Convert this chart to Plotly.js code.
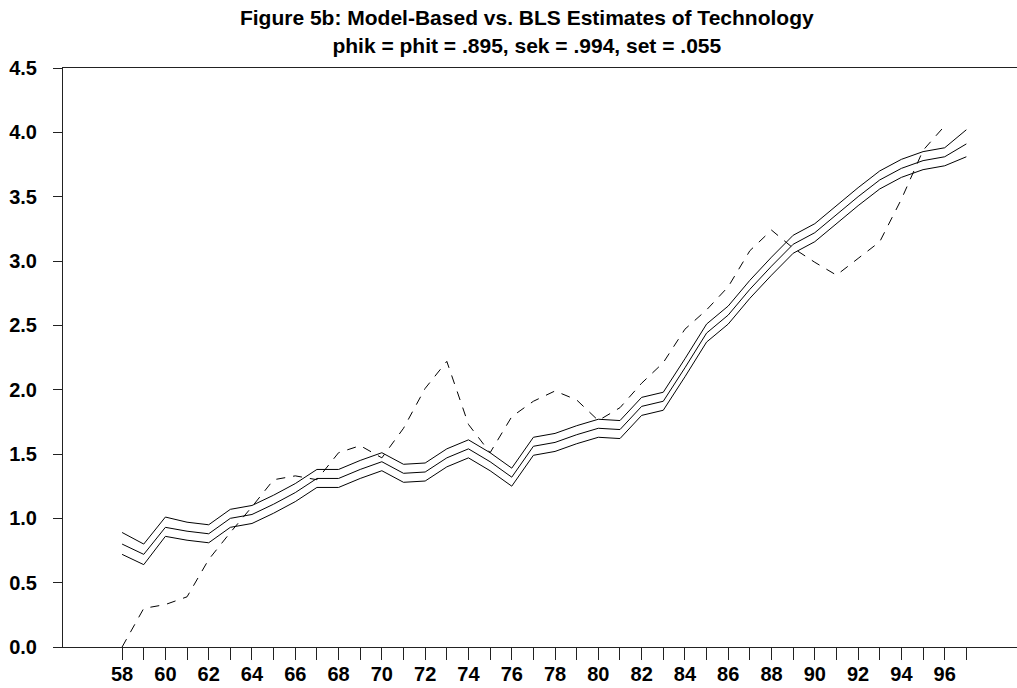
<!DOCTYPE html>
<html>
<head>
<meta charset="utf-8">
<script src="https://cdn.plot.ly/plotly-3.0.1.min.js"></script>
<style>html,body{margin:0;padding:0;background:#fff;}#chart{width:1017px;height:688px;}</style>
</head>
<body>
<div id="chart"></div>
<script>
const years = [58,59,60,61,62,63,64,65,66,67,68,69,70,71,72,73,74,75,76,77,78,79,80,81,82,83,84,85,86,87,88,89,90,91,92,93,94,95,96,97];
const modelMid = [0.80,0.72,0.93,0.90,0.88,1.00,1.03,1.11,1.20,1.31,
                  1.31,1.38,1.44,1.35,1.36,1.47,1.54,1.44,1.32,1.56,
                  1.59,1.65,1.70,1.69,1.87,1.91,2.17,2.44,2.58,2.78,
                  2.96,3.13,3.22,3.36,3.50,3.63,3.72,3.78,3.81,3.91];
const modelUpper = [0.89,0.80,1.01,0.97,0.95,1.07,1.10,1.18,1.27,1.38,
                    1.38,1.45,1.51,1.42,1.43,1.54,1.61,1.51,1.39,1.63,
                    1.66,1.72,1.77,1.76,1.94,1.98,2.24,2.51,2.65,2.85,
                    3.03,3.20,3.29,3.43,3.57,3.70,3.79,3.85,3.88,4.02];
const modelLower = [0.72,0.64,0.86,0.83,0.81,0.93,0.96,1.04,1.13,1.24,
                    1.24,1.31,1.37,1.28,1.29,1.40,1.47,1.37,1.25,1.49,
                    1.52,1.58,1.63,1.62,1.80,1.84,2.10,2.37,2.51,2.71,
                    2.89,3.06,3.15,3.29,3.43,3.56,3.65,3.71,3.74,3.81];
const blsEstimate = [0.00,0.30,0.33,0.39,0.68,0.89,1.09,1.30,1.33,1.30,
                     1.51,1.565,1.47,1.70,2.01,2.22,1.73,1.51,1.79,1.91,
                     1.99,1.92,1.76,1.86,2.05,2.21,2.47,2.62,2.80,3.08,
                     3.24,3.10,2.99,2.89,3.02,3.15,3.48,3.86,4.05,null];
const xTickLabels = years.map(y => (y % 2 === 0 && y <= 96) ? String(y) : '');
const yTickVals = [0,0.5,1.0,1.5,2.0,2.5,3.0,3.5,4.0,4.5];
const titleLines = ['Figure 5b: Model-Based vs. BLS Estimates of Technology', 'phik = phit = .895, sek = .994, set = .055'];

const FONT = 'Liberation Sans, Arial, Helvetica, sans-serif';
const solid = {color:'#000', width:1};
const traces = [
  {x: years, y: modelUpper, mode:'lines', line: solid, hoverinfo:'skip'},
  {x: years, y: modelMid, mode:'lines', line: solid},
  {x: years, y: modelLower, mode:'lines', line: solid, hoverinfo:'skip'},
  {x: years, y: blsEstimate, mode:'lines', line: {color:'#000', width:1, dash:'9px,8px'}, connectgaps:false}
];
const layout = {
  width: 1017, height: 688,
  margin: {l:63, r:0, t:68, b:41, pad:0},
  paper_bgcolor:'#fff', plot_bgcolor:'#fff',
  showlegend:false,
  font: {family: FONT, color:'#000'},
  title: {
    text: titleLines.join('<br>'),
    font: {family: FONT, size: 21, weight: 'bold', color:'#000'},
    x: 0.518, xanchor:'center', xref:'container',
    y: 0.963, yanchor:'top', yref:'container'
  },
  xaxis: {
    range: [55.27, 99.34],
    tickmode:'array', tickvals: years, ticktext: xTickLabels,
    ticks:'outside', ticklen:12, tickwidth:1, tickcolor:'#222',
    showline:true, linecolor:'#222', linewidth:1, mirror:true,
    showgrid:false, zeroline:false, ticklabelstandoff: -3,
    tickfont:{family: FONT, size:20, weight:'bold', color:'#000'}
  },
  yaxis: {
    range: [0, 4.5],
    tickmode:'array', tickvals: yTickVals, ticktext: yTickVals.map(v => v.toFixed(1)),
    ticks:'outside', ticklen:9, tickwidth:1, tickcolor:'#222',
    showline:true, linecolor:'#222', linewidth:1,
    showgrid:false, zeroline:false, ticklabelstandoff: 12,
    tickfont:{family: FONT, size:20, weight:'bold', color:'#000'}
  }
};
Plotly.newPlot('chart', traces, layout, {displayModeBar:false, staticPlot:true});
</script>
</body>
</html>
